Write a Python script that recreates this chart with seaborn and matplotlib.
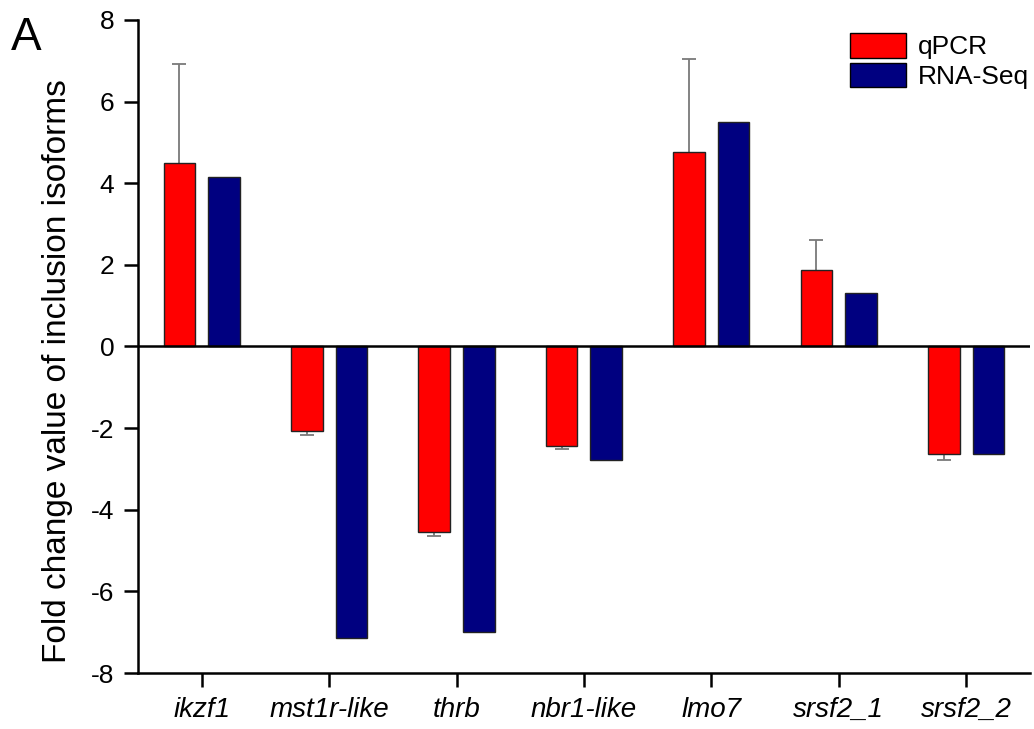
import matplotlib
matplotlib.use("Agg")
import matplotlib.pyplot as plt
import seaborn as sns
import pandas as pd
import numpy as np

genes = ["ikzf1", "mst1r-like", "thrb", "nbr1-like", "lmo7", "srsf2_1", "srsf2_2"]
qpcr = [4.50, -2.08, -4.55, -2.44, 4.76, 1.88, -2.64]
qpcr_err = [2.42, 0.10, 0.10, 0.07, 2.29, 0.72, 0.13]
rnaseq = [4.16, -7.14, -7.00, -2.78, 5.50, 1.32, -2.64]
series = ["qPCR", "RNA-Seq"]
colors = ["#ff0000", "#000080"]

df = pd.DataFrame({
    "gene": genes * 2,
    "value": qpcr + rnaseq,
    "method": [series[0]] * len(genes) + [series[1]] * len(genes),
})

sns.set_style("ticks")
plt.rcParams["font.family"] = ["Liberation Sans", "DejaVu Sans"]
plt.rcParams["axes.unicode_minus"] = False
for k in ["text.color", "axes.labelcolor", "xtick.color", "ytick.color", "axes.edgecolor"]:
    plt.rcParams[k] = "black"

fig = plt.figure(figsize=(10.34, 7.29), dpi=100)
ax = fig.add_axes([0.1335, 0.0768, 0.8625, 0.8958])

sns.barplot(data=df, x="gene", y="value", hue="method", order=genes,
            hue_order=series, palette=colors, width=0.7, gap=0.29,
            errorbar=None, edgecolor="#222222", linewidth=1.0, saturation=1,
            ax=ax, zorder=3)

# one-sided error bars on qPCR bars (cap only at the outer end)
qbars = ax.containers[0]
for bar, v, e in zip(qbars, qpcr, qpcr_err):
    xc = bar.get_x() + bar.get_width() / 2
    yerr = [[0], [e]] if v >= 0 else [[e], [0]]
    _, caps, _ = ax.errorbar([xc], [v], yerr=yerr, fmt="none", ecolor="#7a7a7a",
                             elinewidth=1.3, capsize=5, capthick=1.3, zorder=2)
    for c in caps:
        if np.isclose(c.get_ydata()[0], v):
            c.set_visible(False)

ax.set_xlim(-0.5, 6.5)
ax.set_ylim(-8, 8)
ax.set_yticks([-8, -6, -4, -2, 0, 2, 4, 6, 8])
ax.axhline(0, color="black", lw=1.8, zorder=4)

sns.despine(ax=ax, top=True, right=True)
for s in ["left", "bottom"]:
    ax.spines[s].set_linewidth(1.8)
ax.tick_params(axis="both", width=1.8, length=10, direction="out", colors="black")
ax.tick_params(axis="y", labelsize=19, pad=7)
ax.tick_params(axis="x", labelsize=20, pad=7)
for lbl in ax.get_xticklabels():
    lbl.set_fontstyle("italic")

ax.set_xlabel("")
ax.set_ylabel("Fold change value of inclusion isoforms", fontsize=24)
ax.yaxis.set_label_coords(-0.073, 0.462)

leg = ax.legend(loc="upper right", bbox_to_anchor=(1.014, 1.0), frameon=False,
                fontsize=19, handlelength=2.12, handleheight=1.06,
                handletextpad=0.45, labelspacing=0.12, borderaxespad=0.1)
for h in leg.legend_handles:
    h.set_edgecolor("black")
    h.set_linewidth(1.0)

fig.text(0.011, 0.932, "A", fontsize=33)

fig.savefig("out.png", dpi=100)
